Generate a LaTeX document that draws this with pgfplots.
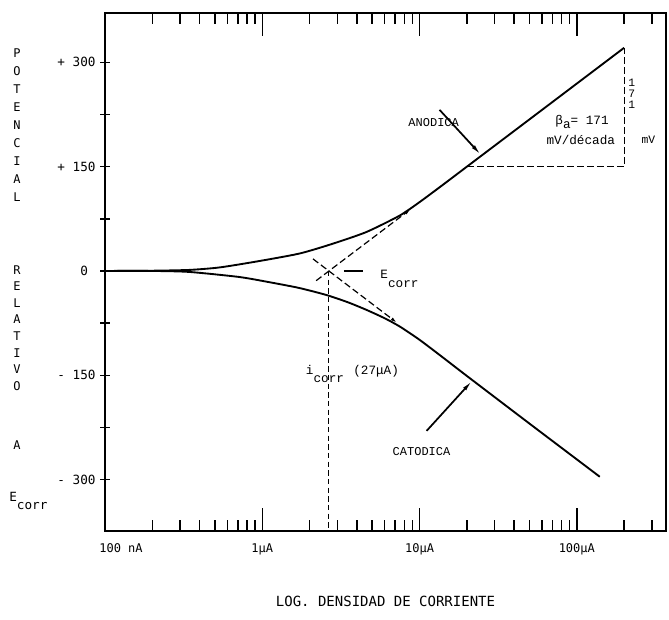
\documentclass[border=0pt]{standalone}
\usepackage{pgfplots}
\pgfplotsset{compat=1.18}
\usepackage{fontspec}
\setmainfont{DejaVu Sans Mono}
\newfontfamily\tw{Liberation Mono}
\usetikzlibrary{arrows.meta}

\begin{document}
\begin{tikzpicture}
\useasboundingbox (-78.75pt,-66pt) rectangle (423pt,398.25pt);
\begin{axis}[
  at={(0,0)}, anchor=south west,
  scale only axis, width=420.75pt, height=388.5pt,
  xmode=log, xmin=1e-7, xmax=3.69e-4, ymin=-374, ymax=371,
  axis line style={line width=1.6pt},
  xtick={1e-7,1e-6,1e-5,1e-4},
  xticklabels={\hspace*{24pt}100 nA, 1μA, 10μA, 100μA},
  minor xtick={2e-7,3e-7,4e-7,5e-7,6e-7,7e-7,8e-7,9e-7,2e-6,3e-6,4e-6,5e-6,6e-6,7e-6,8e-6,9e-6,2e-5,3e-5,4e-5,5e-5,6e-5,7e-5,8e-5,9e-5,2e-4,3e-4},
  xtick align=inside,
  major tick length=17pt, minor tick length=8pt,
  tick style={line width=1.1pt, black},
  ytick=\empty,
  xticklabel style={font=\fontsize{9}{10}\selectfont, yshift=-6pt},
  clip=false,
  xlabel={LOG. DENSIDAD DE CORRIENTE},
  xlabel style={at={(axis description cs:0.5,-0.135)}, anchor=center, font=\fontsize{10.5}{12}\selectfont},
]
% anodic curve
\addplot[black, line width=1.4pt, smooth, tension=0.4] coordinates {
 (1e-7,0) (1.905e-7,0.3) (3.43e-7,1.5) (5.32e-7,5) (9.15e-7,13.5) (1.72e-6,25)
 (2.79e-6,39) (4.59e-6,56) (7.46e-6,79.5) (1e-5,99) (1.4e-5,123.5) (2e-5,150)
 (5e-5,218) (1e-4,269.5) (2e-4,321)};
% cathodic curve
\addplot[black, line width=1.4pt, smooth, tension=0.4] coordinates {
 (1e-7,0) (2e-7,0) (3.43e-7,-1.4) (7.1e-7,-8.6) (1.1e-6,-16) (1.72e-6,-24.5)
 (2.55e-6,-34.5) (3.5e-6,-45) (4.6e-6,-56) (6e-6,-68) (7.5e-6,-80) (1e-5,-99)
 (1.4e-5,-124) (2e-5,-151) (5e-5,-219.5) (1e-4,-271) (1.4e-4,-296)};
% Tafel extrapolations
\addplot[black, line width=0.9pt, dash pattern=on 5pt off 2.5pt, -{Latex[length=5pt,width=2.5pt]}] coordinates {(2.2e-6,-14) (8.8e-6,89)};
\addplot[black, line width=0.9pt, dash pattern=on 5pt off 2.5pt, -{Latex[length=5pt,width=2.5pt]}] coordinates {(2.1e-6,17.4) (7.2e-6,-74.6)};
% slope triangle
\addplot[black, line width=0.9pt, dash pattern=on 5pt off 2.5pt] coordinates {(2e-5,150) (2e-4,150) (2e-4,321)};
% i_corr vertical
\addplot[black, line width=0.9pt, dash pattern=on 4pt off 2.5pt] coordinates {(2.65e-6,0) (2.65e-6,-374)};
% E_corr leader
\addplot[black, line width=0.9pt] coordinates {(3.3e-6,0) (4.35e-6,0)};
% annotation arrows
\addplot[black, line width=1.3pt, -{Latex[length=9pt,width=3pt]}] coordinates {(1.341e-5,231.7) (2.48e-5,166)};
\addplot[black, line width=1.3pt, -{Latex[length=9pt,width=3pt]}] coordinates {(1.109e-5,-230) (2.18e-5,-157)};

\node[font=\tw\fontsize{9}{10}\selectfont] at (axis cs:1.23e-5,214) {ANODICA};
\node[font=\tw\fontsize{9}{10}\selectfont] at (axis cs:1.03e-5,-260) {CATODICA};
\node[font=\tw\fontsize{9.5}{10}\selectfont] at (axis cs:1.08e-4,214) {β\raisebox{-0.6ex}{a}= 171};
\node[font=\tw\fontsize{9.5}{10}\selectfont] at (axis cs:1.06e-4,188) {mV/década};
\node[font=\tw\fontsize{8.5}{8.5}\selectfont, align=center, inner sep=0pt] at (axis cs:2.24e-4,255) {1\\7\\1};
\node[font=\tw\fontsize{8.5}{10}\selectfont] at (axis cs:2.85e-4,188) {mV};
\node[font=\tw\fontsize{9.5}{10}\selectfont, anchor=west] at (axis cs:5.27e-6,-11) {E\raisebox{-6.5pt}{corr}};
\node[font=\tw\fontsize{9.5}{10}\selectfont, anchor=west] at (axis cs:1.77e-6,-148) {i\raisebox{-6.5pt}{corr}\hspace*{7pt}(27μA)};

% left vertical title
\node[font=\fontsize{9}{13.5}\selectfont, align=center, inner sep=0pt] at (rel axis cs:-0.1569,0.784) {P\\O\\T\\E\\N\\C\\I\\A\\L};
\node[font=\fontsize{9}{12.4}\selectfont, align=center, inner sep=0pt] at (rel axis cs:-0.1569,0.392) {R\\E\\L\\A\\T\\I\\V\\O};
\node[font=\fontsize{9}{10}\selectfont, inner sep=0pt] at (rel axis cs:-0.1569,0.166) {A};
\node[font=\fontsize{9.5}{10}\selectfont, anchor=west, inner sep=0pt] at (rel axis cs:-0.171,0.058) {E\raisebox{-6.5pt}{corr}};
\end{axis}

\begin{axis}[
  at={(0,0)}, anchor=south west,
  scale only axis, width=420.75pt, height=388.5pt,
  xmode=log, xmin=1e-7, xmax=3.69e-4, ymin=-374, ymax=371,
  axis line style={draw=none},
  xtick=\empty,
  ytick={-300,-150,0,150,300},
  yticklabels={- 300,- 150,0\phantom{0},+ 150,+ 300},
  minor ytick={-225,-75,75,225},
  ytick align=center, ytick pos=left,
  major tick length=7pt, minor tick length=7pt,
  tick style={line width=1.1pt, black},
  yticklabel style={font=\fontsize{9.5}{10}\selectfont, anchor=east},
]
\end{axis}
\end{tikzpicture}
\end{document}
